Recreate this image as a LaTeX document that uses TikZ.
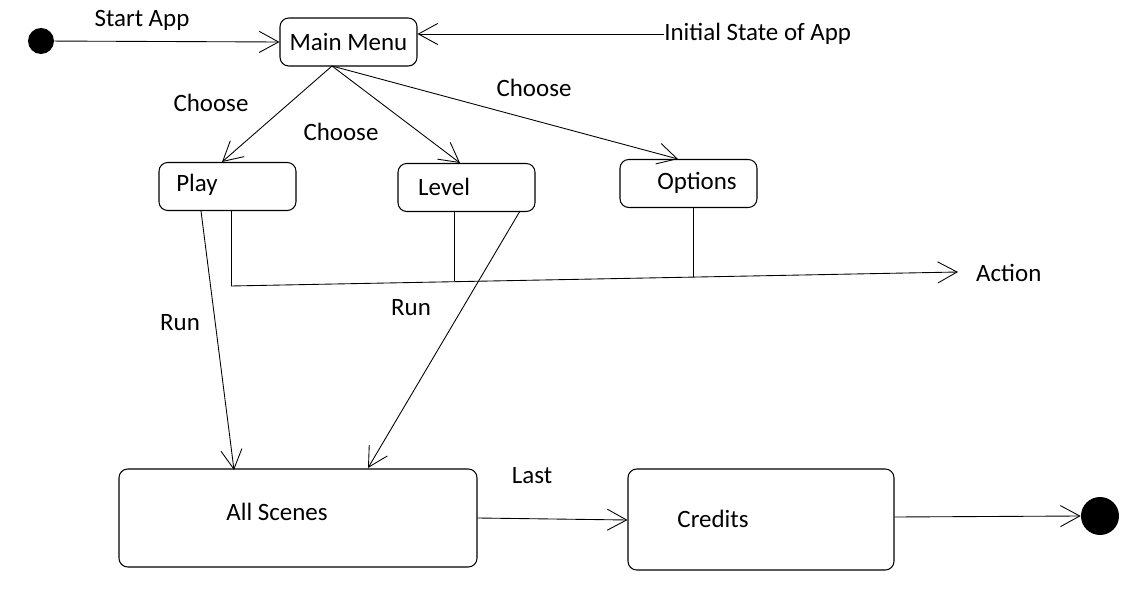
\documentclass[tikz,border=0pt]{standalone}
\usepackage{fontspec}
\setmainfont{Carlito}
\usetikzlibrary{arrows.meta}
\usetikzlibrary{positioning}

\begin{document}
\begin{tikzpicture}[x=0.02cm,y=-0.02cm,
    every node/.style={font=\fontsize{14.2}{17}\selectfont},
    etat/.style={draw,rounded corners=5pt,line width=0.6pt,minimum width=137*0.02cm,minimum height=48*0.02cm},
    grandetat/.style={draw,rounded corners=5pt,line width=0.6pt},
    point/.style={circle,fill=black,inner sep=0pt},
    fleche/.style={-{Straight Barb[length=11pt,width=12pt]},line width=0.5pt},
    trait/.style={line width=0.5pt}]

\useasboundingbox (0,0) rectangle (1146,594);

%%%%%%%%%%%%%%%%%%%%%%%%
%Etats du haut
%%%%%%%%%%%%%%%%%%%%%%%%
\node[point,minimum size=26*0.02cm] (debut) at (41,41) {};
\node[etat] (menu) at (348.5,42) {Main Menu};
\node[etat] (play) at (227.5,186.5) {};
\node[etat] (level) at (466.5,187.5) {};
\node[etat] (options) at (688.5,183.5) {};
\node (playtxt) at (197,185) {Play};
\node (leveltxt) at (444,187) {Level};
\node (optionstxt) at (697,183) {Options};

%%%%%%%%%%%%%%%%%%%%%%%%
%Etats du bas
%%%%%%%%%%%%%%%%%%%%%%%%
\node[grandetat,minimum width=358*0.02cm,minimum height=98*0.02cm] (scenes) at (298,518) {};
\node[grandetat,minimum width=266*0.02cm,minimum height=101*0.02cm] (credits) at (761,519.5) {};
\node (scenestxt) at (277,512) {All Scenes};
\node (creditstxt) at (713,519) {Credits};
\node[point,minimum size=38*0.02cm] (fin) at (1100,516) {};

%%%%%%%%%%%%%%%%%%%%%%%%
%Transitions
%%%%%%%%%%%%%%%%%%%%%%%%
\draw[fleche] (debut) -- (menu.west);
\node (start) at (142,20) {Start App};
\node[anchor=west,inner sep=0pt] (init) at (664,34) {Initial State of App};
\draw[fleche] (init.west) -- (menu.east |- init.west);

\coordinate (menubas) at (332,66);
\draw[fleche] (menubas) -- (222,162);
\draw[fleche] (menubas) -- (460,163);
\draw[fleche] (menubas) -- (678,159);
\node (choose1) at (211,103) {Choose};
\node (choose2) at (341,132) {Choose};
\node (choose3) at (534,88) {Choose};

% ligne Action
\coordinate (a1) at (231,286);
\coordinate (a2) at (454,281.5);
\coordinate (a3) at (693,277);
\coordinate (a4) at (958,272);
\draw[trait] (play.south -| a1) -- (a1);
\draw[trait] (level.south -| a2) -- (a2);
\draw[trait] (options.south -| a3) -- (a3);
\draw[fleche] (a1) -- (a4);
\node[anchor=west] (action) at (970,273) {Action};

% Run
\draw[fleche] (201,211) -- (234,470);
\draw[fleche] (520,211) -- (368,468);
\node (run1) at (180,323) {Run};
\node (run2) at (411,308) {Run};

% fin
\draw[fleche] (scenes.east |- 0,518) -- (credits.west |- 0,520);
\node (last) at (532,476) {Last};
\draw[fleche] (credits.east |- 0,517) -- (fin.west);

\end{tikzpicture}
\end{document}
